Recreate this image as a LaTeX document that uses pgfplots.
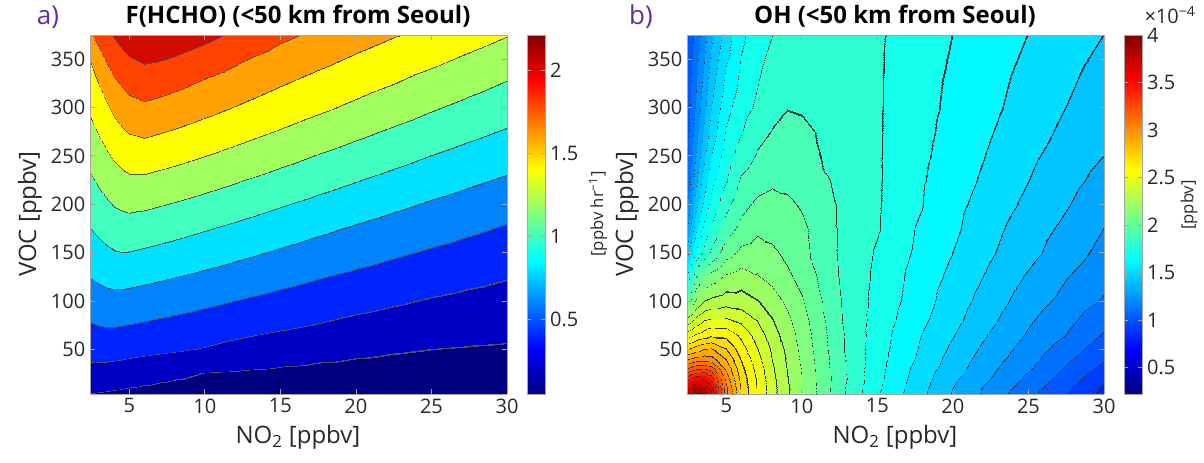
\documentclass[border=0pt]{standalone}
\usepackage{fontspec}
\setmainfont{Open Sans}
\usepackage{pgfplots}
\pgfplotsset{compat=1.18}
\definecolor{tickgray}{RGB}{40,40,40}
\definecolor{framegray}{RGB}{165,165,165}
\definecolor{panelpurple}{RGB}{100,45,160}
\pgfplotsset{
  colormap={hchoBands}{
    rgb255(5.4pt)=(0,0,128)
    rgb255(20pt)=(80,80,95) rgb255(20.5pt)=(0,0,197)
    rgb255(40pt)=(80,80,95) rgb255(40.5pt)=(0,36,255)
    rgb255(60pt)=(80,80,95) rgb255(60.5pt)=(0,131,255)
    rgb255(80pt)=(80,80,95) rgb255(80.5pt)=(0,225,255)
    rgb255(100pt)=(80,80,95) rgb255(100.5pt)=(65,255,190)
    rgb255(120pt)=(80,80,95) rgb255(120.5pt)=(160,255,95)
    rgb255(140pt)=(80,80,95) rgb255(140.5pt)=(255,255,0)
    rgb255(160pt)=(80,80,95) rgb255(160.5pt)=(255,161,0)
    rgb255(180pt)=(80,80,95) rgb255(180.5pt)=(255,66,0)
    rgb255(200pt)=(80,80,95) rgb255(200.5pt)=(210,10,0)
    rgb255(221pt)=(210,10,0)
  },
  colormap={ohBands}{
    rgb255(22pt)=(0,0,128)
    rgb255(30pt)=(50,50,50) rgb255(30.25pt)=(0,0,154)
    rgb255(40pt)=(50,50,50) rgb255(40.25pt)=(0,0,181)
    rgb255(50pt)=(50,50,50) rgb255(50.25pt)=(0,0,208)
    rgb255(60pt)=(50,50,50) rgb255(60.25pt)=(0,0,235)
    rgb255(70pt)=(50,50,50) rgb255(70.25pt)=(0,7,255)
    rgb255(80pt)=(50,50,50) rgb255(80.25pt)=(0,34,255)
    rgb255(90pt)=(50,50,50) rgb255(90.25pt)=(0,60,255)
    rgb255(100pt)=(50,50,50) rgb255(100.25pt)=(0,87,255)
    rgb255(110pt)=(50,50,50) rgb255(110.25pt)=(0,114,255)
    rgb255(120pt)=(50,50,50) rgb255(120.25pt)=(0,141,255)
    rgb255(130pt)=(50,50,50) rgb255(130.25pt)=(0,168,255)
    rgb255(140pt)=(50,50,50) rgb255(140.25pt)=(0,195,255)
    rgb255(150pt)=(50,50,50) rgb255(150.25pt)=(0,221,255)
    rgb255(160pt)=(50,50,50) rgb255(160.25pt)=(0,248,255)
    rgb255(170pt)=(50,50,50) rgb255(170.25pt)=(20,255,235)
    rgb255(180pt)=(50,50,50) rgb255(180.25pt)=(47,255,208)
    rgb255(190pt)=(50,50,50) rgb255(190.25pt)=(74,255,181)
    rgb255(200pt)=(50,50,50) rgb255(200.25pt)=(101,255,154)
    rgb255(210pt)=(50,50,50) rgb255(210.25pt)=(128,255,128)
    rgb255(220pt)=(50,50,50) rgb255(220.25pt)=(154,255,101)
    rgb255(230pt)=(50,50,50) rgb255(230.8pt)=(181,255,74)
    rgb255(240pt)=(50,50,50) rgb255(240.8pt)=(208,255,47)
    rgb255(250pt)=(50,50,50) rgb255(250.8pt)=(235,255,20)
    rgb255(260pt)=(50,50,50) rgb255(260.8pt)=(255,248,0)
    rgb255(270pt)=(50,50,50) rgb255(271.5pt)=(255,221,0)
    rgb255(280pt)=(50,50,50) rgb255(281.5pt)=(255,195,0)
    rgb255(290pt)=(50,50,50) rgb255(291.5pt)=(255,168,0)
    rgb255(300pt)=(50,50,50) rgb255(301.5pt)=(255,141,0)
    rgb255(310pt)=(50,50,50) rgb255(311.5pt)=(255,114,0)
    rgb255(320pt)=(50,50,50) rgb255(321.5pt)=(255,87,0)
    rgb255(330pt)=(50,50,50) rgb255(331.5pt)=(255,60,0)
    rgb255(340pt)=(50,50,50) rgb255(341.5pt)=(255,34,0)
    rgb255(350pt)=(50,50,50) rgb255(351.5pt)=(255,7,0)
    rgb255(360pt)=(50,50,50) rgb255(361.5pt)=(235,0,0)
    rgb255(370pt)=(50,50,50) rgb255(371.5pt)=(208,0,0)
    rgb255(380pt)=(50,50,50) rgb255(381.5pt)=(181,0,0)
    rgb255(390pt)=(50,50,50) rgb255(391.5pt)=(154,0,0)
    rgb255(400pt)=(154,0,0)
  },
  contourax/.style={
    scale only axis, width=312.75pt, height=269.25pt,
    view={0}{90}, axis on top,
    xmin=2.4, xmax=30, ymin=3.75, ymax=375,
    xtick={5,10,15,20,25,30}, ytick={50,100,150,200,250,300,350},
    ztick=\empty,
    tick align=inside, major tick length=4pt,
    axis line style={framegray, line width=0.6pt},
    tick style={framegray, line width=0.6pt},
    tick label style={font=\fontsize{15}{18}\selectfont, text=tickgray},
    /pgf/number format/assume math mode=true,
    colormap/jet,
    colorbar,
    colorbar style={
      at={(parent axis.north east)}, anchor=north west, xshift=6.75pt,
      scale only axis, width=13.5pt, height=269.25pt,
      tick align=inside, major tick length=3pt,
      axis line style={framegray, line width=0.6pt},
      tick style={framegray, line width=0.6pt},
      tick label style={font=\fontsize{15}{18}\selectfont, text=tickgray},
      /pgf/number format/assume math mode=true,
    },
  },
}
\begin{document}
\begin{tikzpicture}[x=0.75pt, y=-0.75pt]
\path[use as bounding box] (0,0) rectangle (1204,462);

% ---------------- (a) F(HCHO) [ppbv/hr] ----------------
\begin{axis}[contourax,
  at={(67.5pt,-295.5pt)}, anchor=south west,
  point meta min=0.054, point meta max=2.21,
  colorbar style={ytick={0.5,1,1.5,2}},
]
\addplot3[surf, shader=interp, colormap name=hchoBands,
  colormap access=piecewise constant, point meta=z, mesh/cols=18]
table[x=x, y=y, z=z] {
x y z
2.4 3.75 0.198
3 3.75 0.19
3.5 3.75 0.183
4 3.75 0.175
4.5 3.75 0.168
5 3.75 0.16
6 3.75 0.15
7 3.75 0.142
8 3.75 0.135
10 3.75 0.12
12.5 3.75 0.105
15 3.75 0.095
17.5 3.75 0.085
20 3.75 0.078
22.5 3.75 0.072
25 3.75 0.066
27.5 3.75 0.06
30 3.75 0.055
2.4 25 0.34
3 25 0.337
3.5 25 0.331
4 25 0.32
4.5 25 0.309
5 25 0.297
6 25 0.274
7 25 0.253
8 25 0.233
10 25 0.199
12.5 25 0.183
15 25 0.169
17.5 25 0.156
20 25 0.146
22.5 25 0.137
25 25 0.129
27.5 25 0.121
30 25 0.114
2.4 50 0.474
3 50 0.483
3.5 50 0.486
4 50 0.482
4.5 50 0.476
5 50 0.469
6 50 0.455
7 50 0.44
8 50 0.425
10 50 0.391
12.5 50 0.338
15 50 0.296
17.5 50 0.263
20 50 0.238
22.5 50 0.218
25 50 0.203
27.5 50 0.192
30 50 0.183
2.4 75 0.59
3 75 0.606
3.5 75 0.614
4 75 0.613
4.5 75 0.606
5 75 0.599
6 75 0.583
7 75 0.566
8 75 0.55
10 75 0.516
12.5 75 0.474
15 75 0.434
17.5 75 0.395
20 75 0.354
22.5 75 0.322
25 75 0.296
27.5 75 0.275
30 75 0.258
2.4 100 0.699
3 100 0.722
3.5 100 0.737
4 100 0.742
4.5 100 0.738
5 100 0.731
6 100 0.713
7 100 0.695
8 100 0.676
10 100 0.638
12.5 100 0.591
15 100 0.546
17.5 100 0.503
20 100 0.463
22.5 100 0.424
25 100 0.388
27.5 100 0.358
30 100 0.333
2.4 125 0.806
3 125 0.835
3.5 125 0.856
4 125 0.868
4.5 125 0.869
5 125 0.862
6 125 0.844
7 125 0.825
8 125 0.804
10 125 0.763
12.5 125 0.711
15 125 0.661
17.5 125 0.612
20 125 0.566
22.5 125 0.524
25 125 0.484
27.5 125 0.446
30 125 0.411
2.4 150 0.903
3 150 0.942
3.5 150 0.97
4 150 0.99
4.5 150 0.999
5 150 0.995
6 150 0.976
7 150 0.956
8 150 0.934
10 150 0.89
12.5 150 0.833
15 150 0.778
17.5 150 0.725
20 150 0.674
22.5 150 0.625
25 150 0.58
27.5 150 0.539
30 150 0.498
2.4 175 1.002
3 175 1.044
3.5 175 1.077
4 175 1.103
4.5 175 1.119
5 175 1.123
6 175 1.106
7 175 1.086
8 175 1.063
10 175 1.017
12.5 175 0.958
15 175 0.898
17.5 175 0.84
20 175 0.784
22.5 175 0.731
25 175 0.682
27.5 175 0.634
30 175 0.586
2.4 200 1.088
3 200 1.14
3.5 200 1.18
4 200 1.214
4.5 200 1.237
5 200 1.249
6 200 1.237
7 200 1.215
8 200 1.191
10 200 1.143
12.5 200 1.081
15 200 1.019
17.5 200 0.957
20 200 0.897
22.5 200 0.839
25 200 0.784
27.5 200 0.733
30 200 0.682
2.4 225 1.175
3 225 1.235
3.5 225 1.28
4 225 1.32
4.5 225 1.351
5 225 1.372
6 225 1.37
7 225 1.348
8 225 1.324
10 225 1.272
12.5 225 1.205
15 225 1.14
17.5 225 1.075
20 225 1.011
22.5 225 0.95
25 225 0.891
27.5 225 0.834
30 225 0.78
2.4 250 1.261
3 250 1.327
3.5 250 1.379
4 250 1.426
4.5 250 1.465
5 250 1.492
6 250 1.502
7 250 1.48
8 250 1.455
10 250 1.403
12.5 250 1.333
15 250 1.263
17.5 250 1.193
20 250 1.126
22.5 250 1.062
25 250 0.999
27.5 250 0.939
30 250 0.882
2.4 275 1.346
3 275 1.419
3.5 275 1.48
4 275 1.532
4.5 275 1.577
5 275 1.611
6 275 1.635
7 275 1.611
8 275 1.584
10 275 1.528
12.5 275 1.457
15 275 1.388
17.5 275 1.315
20 275 1.243
22.5 275 1.174
25 275 1.109
27.5 275 1.045
30 275 0.984
2.4 300 1.432
3 300 1.514
3.5 300 1.58
4 300 1.645
4.5 300 1.699
5 300 1.737
6 300 1.768
7 300 1.744
8 300 1.714
10 300 1.653
12.5 300 1.577
15 300 1.504
17.5 300 1.434
20 300 1.363
22.5 300 1.29
25 300 1.219
27.5 300 1.152
30 300 1.088
2.4 325 1.521
3 325 1.613
3.5 325 1.701
4 325 1.77
4.5 325 1.823
5 325 1.862
6 325 1.899
7 325 1.879
8 325 1.848
10 325 1.778
12.5 325 1.695
15 325 1.618
17.5 325 1.543
20 325 1.472
22.5 325 1.406
25 325 1.333
27.5 325 1.261
30 325 1.192
2.4 350 1.61
3 350 1.742
3.5 350 1.827
4 350 1.894
4.5 350 1.947
5 350 1.987
6 350 2.03
7 350 2.015
8 350 1.986
10 350 1.915
12.5 350 1.814
15 350 1.728
17.5 350 1.653
20 350 1.577
22.5 350 1.509
25 350 1.446
27.5 350 1.372
30 350 1.3
2.4 375 1.78
3 375 1.871
3.5 375 1.952
4 375 2.02
4.5 375 2.076
5 375 2.118
6 375 2.16
7 375 2.153
8 375 2.123
10 375 2.055
12.5 375 1.945
15 375 1.843
17.5 375 1.764
20 375 1.681
22.5 375 1.612
25 375 1.557
27.5 375 1.484
30 375 1.409
};
\end{axis}

% ---------------- (b) OH [1e-4 ppbv] ----------------
\begin{axis}[contourax,
  at={(515.25pt,-295.5pt)}, anchor=south west,
  point meta min=0.22, point meta max=4.0,
  colorbar style={ytick={0.5,1,1.5,2,2.5,3,3.5,4}},
]
\addplot3[surf, shader=interp, colormap name=ohBands,
  colormap access=piecewise constant, point meta=z, mesh/cols=18]
table[x=x, y=y, z=z] {
x y z
2.4 3.75 3.88
3 3.75 3.98
3.5 3.75 3.93
4 3.75 3.75
5 3.75 3.13
6 3.75 2.8
7 3.75 2.6
8 3.75 2.44
9 3.75 2.32
10 3.75 2.2
12.5 3.75 1.93
15 3.75 1.71
17.5 3.75 1.55
20 3.75 1.39
22.5 3.75 1.26
25 3.75 1.13
27.5 3.75 1.0
30 3.75 0.87
2.4 10 3.7
3 10 3.84
3.5 10 3.81
4 10 3.66
5 10 3.13
6 10 2.79
7 10 2.6
8 10 2.44
9 10 2.32
10 10 2.2
12.5 10 1.93
15 10 1.72
17.5 10 1.555
20 10 1.4
22.5 10 1.27
25 10 1.15
27.5 10 1.02
30 10 0.88
2.4 20 3.45
3 20 3.57
3.5 20 3.58
4 20 3.46
5 20 3.07
6 20 2.77
7 20 2.59
8 20 2.43
9 20 2.31
10 20 2.2
12.5 20 1.94
15 20 1.73
17.5 20 1.57
20 20 1.42
22.5 20 1.3
25 20 1.18
27.5 20 1.06
30 20 0.92
2.4 30 3.22
3 30 3.3
3.5 30 3.32
4 30 3.28
5 30 2.99
6 30 2.74
7 30 2.57
8 30 2.42
9 30 2.3
10 30 2.19
12.5 30 1.93
15 30 1.735
17.5 30 1.58
20 30 1.445
22.5 30 1.32
25 30 1.21
27.5 30 1.09
30 30 0.97
2.4 40 3.0
3 40 3.05
3.5 40 3.06
4 40 3.05
5 40 2.9
6 40 2.7
7 40 2.54
8 40 2.4
9 40 2.29
10 40 2.18
12.5 40 1.93
15 40 1.74
17.5 40 1.6
20 40 1.46
22.5 40 1.34
25 40 1.24
27.5 40 1.12
30 40 1.01
2.4 50 2.8
3 50 2.86
3.5 50 2.91
4 50 2.92
5 50 2.81
6 50 2.65
7 50 2.51
8 50 2.39
9 50 2.28
10 50 2.17
12.5 50 1.92
15 50 1.745
17.5 50 1.61
20 50 1.48
22.5 50 1.36
25 50 1.26
27.5 50 1.155
30 50 1.04
2.4 65 2.55
3 65 2.62
3.5 65 2.65
4 65 2.69
5 65 2.68
6 65 2.58
7 65 2.46
8 65 2.35
9 65 2.255
10 65 2.16
12.5 65 1.92
15 65 1.75
17.5 65 1.62
20 65 1.505
22.5 65 1.39
25 65 1.29
27.5 65 1.2
30 65 1.09
2.4 80 2.34
3 80 2.44
3.5 80 2.5
4 80 2.52
5 80 2.52
6 80 2.48
7 80 2.4
8 80 2.31
9 80 2.225
10 80 2.14
12.5 80 1.91
15 80 1.76
17.5 80 1.64
20 80 1.53
22.5 80 1.42
25 80 1.315
27.5 80 1.23
30 80 1.13
2.4 100 2.05
3 100 2.22
3.5 100 2.305
4 100 2.33
5 100 2.36
6 100 2.35
7 100 2.31
8 100 2.25
9 100 2.18
10 100 2.11
12.5 100 1.905
15 100 1.77
17.5 100 1.66
20 100 1.55
22.5 100 1.45
25 100 1.35
27.5 100 1.27
30 100 1.19
2.4 125 1.73
3 125 2.0
3.5 125 2.11
4 125 2.15
5 125 2.22
6 125 2.25
7 125 2.21
8 125 2.17
9 125 2.12
10 125 2.07
12.5 125 1.895
15 125 1.78
17.5 125 1.67
20 125 1.575
22.5 125 1.48
25 125 1.39
27.5 125 1.305
30 125 1.23
2.4 150 1.45
3 150 1.72
3.5 150 1.83
4 150 1.92
5 150 2.06
6 150 2.13
7 150 2.15
8 150 2.12
9 150 2.08
10 150 2.03
12.5 150 1.89
15 150 1.79
17.5 150 1.69
20 150 1.6
22.5 150 1.51
25 150 1.43
27.5 150 1.35
30 150 1.27
2.4 175 1.29
3 175 1.58
3.5 175 1.73
4 175 1.81
5 175 1.95
6 175 2.03
7 175 2.08
8 175 2.07
9 175 2.05
10 175 2.02
12.5 175 1.89
15 175 1.81
17.5 175 1.7
20 175 1.62
22.5 175 1.53
25 175 1.45
27.5 175 1.38
30 175 1.3
2.4 200 1.19
3 200 1.47
3.5 200 1.63
4 200 1.73
5 200 1.87
6 200 1.97
7 200 2.02
8 200 2.04
9 200 2.02
10 200 1.99
12.5 200 1.89
15 200 1.812
17.5 200 1.72
20 200 1.63
22.5 200 1.555
25 200 1.48
27.5 200 1.41
30 200 1.33
2.4 225 1.11
3 225 1.38
3.5 225 1.547
4 225 1.67
5 225 1.795
6 225 1.915
7 225 1.96
8 225 1.98
9 225 1.975
10 225 1.965
12.5 225 1.878
15 225 1.812
17.5 225 1.723
20 225 1.647
22.5 225 1.574
25 225 1.503
27.5 225 1.437
30 225 1.366
2.4 250 1.07
3 250 1.31
3.5 250 1.48
4 250 1.6
5 250 1.75
6 250 1.85
7 250 1.91
8 250 1.94
9 250 1.94
10 250 1.93
12.5 250 1.87
15 250 1.812
17.5 250 1.73
20 250 1.66
22.5 250 1.59
25 250 1.52
27.5 250 1.46
30 250 1.4
2.4 275 1.06
3 275 1.26
3.5 275 1.42
4 275 1.544
5 275 1.712
6 275 1.795
7 275 1.875
8 275 1.905
9 275 1.925
10 275 1.92
12.5 275 1.865
15 275 1.812
17.5 275 1.736
20 275 1.67
22.5 275 1.605
25 275 1.543
27.5 275 1.48
30 275 1.42
2.4 300 1.05
3 300 1.22
3.5 300 1.37
4 300 1.5
5 300 1.67
6 300 1.76
7 300 1.82
8 300 1.88
9 300 1.899
10 300 1.893
12.5 300 1.87
15 300 1.812
17.5 300 1.74
20 300 1.68
22.5 300 1.62
25 300 1.56
27.5 300 1.5
30 300 1.44
2.4 375 1.0
3 375 1.14
3.5 375 1.26
4 375 1.38
5 375 1.55
6 375 1.68
7 375 1.75
8 375 1.8
9 375 1.83
10 375 1.85
12.5 375 1.86
15 375 1.815
17.5 375 1.75
20 375 1.7
22.5 375 1.65
25 375 1.6
27.5 375 1.55
30 375 1.5
};
\end{axis}

% ---------------- texts ----------------
\node[text=panelpurple, font=\fontsize{19.5}{22}\selectfont] at (48,17) {a)};
\node[text=panelpurple, font=\fontsize{19.5}{22}\selectfont] at (641,17) {b)};
\node[text=black, font=\fontsize{18}{21}\selectfont\bfseries] at (298,16) {F(HCHO) (<50 km from Seoul)};
\node[text=black, font=\fontsize{18}{21}\selectfont\bfseries] at (895,16) {OH (<50 km from Seoul)};
\node[text=tickgray, font=\fontsize{18}{20}\selectfont, rotate=90] at (30,214) {VOC [ppbv]};
\node[text=tickgray, font=\fontsize{18}{20}\selectfont, rotate=90] at (627,214) {VOC [ppbv]};
\node[text=tickgray, font=\fontsize{18}{20}\selectfont, anchor=base] at (298,443) {NO\textsubscript{2} [ppbv]};
\node[text=tickgray, font=\fontsize{18}{20}\selectfont, anchor=base] at (895,443) {NO\textsubscript{2} [ppbv]};
\node[text=tickgray, font=\fontsize{12.5}{15}\selectfont, rotate=90] at (598,214) {[ppbv hr\textsuperscript{−1}]};
\node[text=tickgray, font=\fontsize{12.5}{15}\selectfont, rotate=90] at (1189,205) {[ppbv]};
\node[text=tickgray, font=\fontsize{15}{17}\selectfont] at (1170,15) {×10\textsuperscript{−4}};
\end{tikzpicture}
\end{document}
